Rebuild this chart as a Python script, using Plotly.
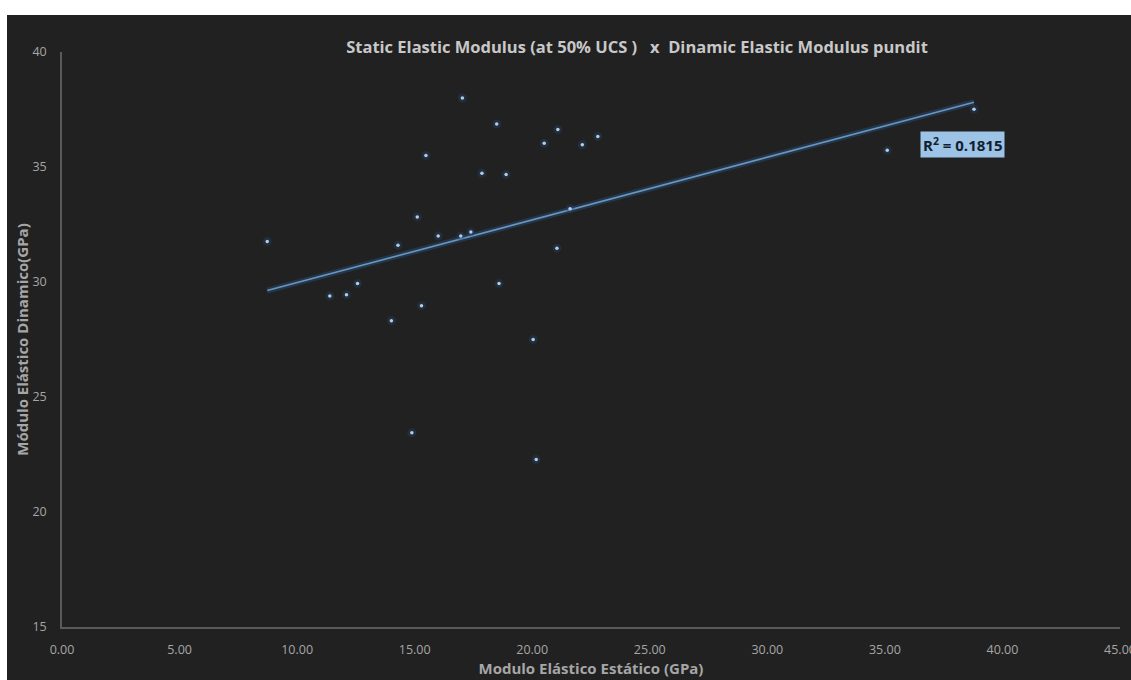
import numpy as np
import plotly.graph_objects as go

# Static modulus (GPa) and dynamic modulus from pundit (GPa)
modulo_estatico = [17.03, 18.49, 21.09, 20.51, 22.13, 22.79, 15.48, 17.86, 18.89, 21.61,
                   15.11, 8.73, 14.29, 16.00, 16.96, 17.39, 21.05, 11.39, 12.10, 12.57,
                   18.59, 15.29, 14.01, 20.04, 14.88, 20.17, 38.79, 35.10]
modulo_dinamico = [38.00, 36.87, 36.63, 36.03, 35.97, 36.33, 35.50, 34.73, 34.67, 33.19,
                   32.83, 31.76, 31.60, 32.00, 32.00, 32.17, 31.47, 29.39, 29.45, 29.93,
                   29.93, 28.97, 28.32, 27.50, 23.45, 22.28, 37.51, 35.73]

x_ticks = [0, 5, 10, 15, 20, 25, 30, 35, 40, 45]
y_ticks = [15, 20, 25, 30, 35, 40]
r2_label = "0.1815"

BG = "#212121"
AXIS = "#5a5a5a"
TXT = "#a6a6a6"
FONT = "Open Sans"

xs = np.array(modulo_estatico)
ys = np.array(modulo_dinamico)
slope, intercept = np.polyfit(xs, ys, 1)
x_fit = np.array([xs.min(), xs.max()])
y_fit = slope * x_fit + intercept

W, H = 1131, 680
ml, mr, mt, mb = 62, 11, 52, 53

fig = go.Figure()

# linear trendline with a soft glow
fig.add_trace(go.Scatter(x=x_fit, y=y_fit, mode="lines",
                         line=dict(color="rgba(40,80,125,0.45)", width=6),
                         hoverinfo="skip", showlegend=False))
fig.add_trace(go.Scatter(x=x_fit, y=y_fit, mode="lines",
                         line=dict(color="#6b96c0", width=1.6),
                         hoverinfo="skip", showlegend=False))

# data points with a dark blue halo
fig.add_trace(go.Scatter(x=xs, y=ys, mode="markers",
                         marker=dict(size=9, color="rgba(35,75,120,0.3)", line=dict(width=0)),
                         hoverinfo="skip", showlegend=False))
fig.add_trace(go.Scatter(x=xs, y=ys, mode="markers",
                         marker=dict(size=3.5, color="#b4cde6", line=dict(width=0)),
                         showlegend=False))

fig.add_annotation(x=38.32, y=35.99, xref="x", yref="y",
                   text="R<sup>2</sup> = " + r2_label, showarrow=False,
                   font=dict(family=FONT, size=15, color="#10202f", weight="bold"),
                   bgcolor="#9dc3e6", borderpad=2)

# dark chart area with a thin white strip at the top and left
pw, ph = W - ml - mr, H - mt - mb
fig.add_shape(type="rect", xref="paper", yref="paper", layer="below",
              x0=(7 - ml) / pw, x1=(W - ml) / pw,
              y0=-(mb) / ph, y1=(H - 15 - mb) / ph,
              fillcolor=BG, line=dict(width=0))

fig.update_layout(
    width=W, height=H,
    paper_bgcolor="white", plot_bgcolor=BG,
    margin=dict(l=ml, r=mr, t=mt, b=mb, autoexpand=False),
    title=dict(text="Static Elastic Modulus (at 50% UCS )\u00a0\u00a0 x \u00a0Dinamic Elastic Modulus pundit",
               x=(637 - ml) / pw, xref="paper", xanchor="center",
               y=1 - 47 / H, yref="container", yanchor="middle",
               font=dict(family=FONT, size=16.5, color="#c8c8c8", weight="bold")),
    xaxis=dict(range=[0, 45], tickvals=x_ticks, tickformat=".2f",
               showgrid=False, zeroline=False, showline=True, linecolor=AXIS, linewidth=1.5,
               ticks="", ticklabelstandoff=10, ticklabeloverflow="allow",
               tickfont=dict(family=FONT, size=12.5, color=TXT),
               title=dict(text="Modulo Elástico Estático (GPa)", standoff=7,
                          font=dict(family=FONT, size=15, color=TXT, weight="bold"))),
    yaxis=dict(range=[15, 40], tickvals=y_ticks,
               showgrid=False, zeroline=False, showline=True, linecolor=AXIS, linewidth=1.5,
               ticks="", ticklabelstandoff=11,
               tickfont=dict(family=FONT, size=12.5, color=TXT),
               title=dict(text="Módulo Elástico Dinamico(GPa)", standoff=0,
                          font=dict(family=FONT, size=15, color=TXT, weight="bold"))),
)

fig.write_html("out.html")
